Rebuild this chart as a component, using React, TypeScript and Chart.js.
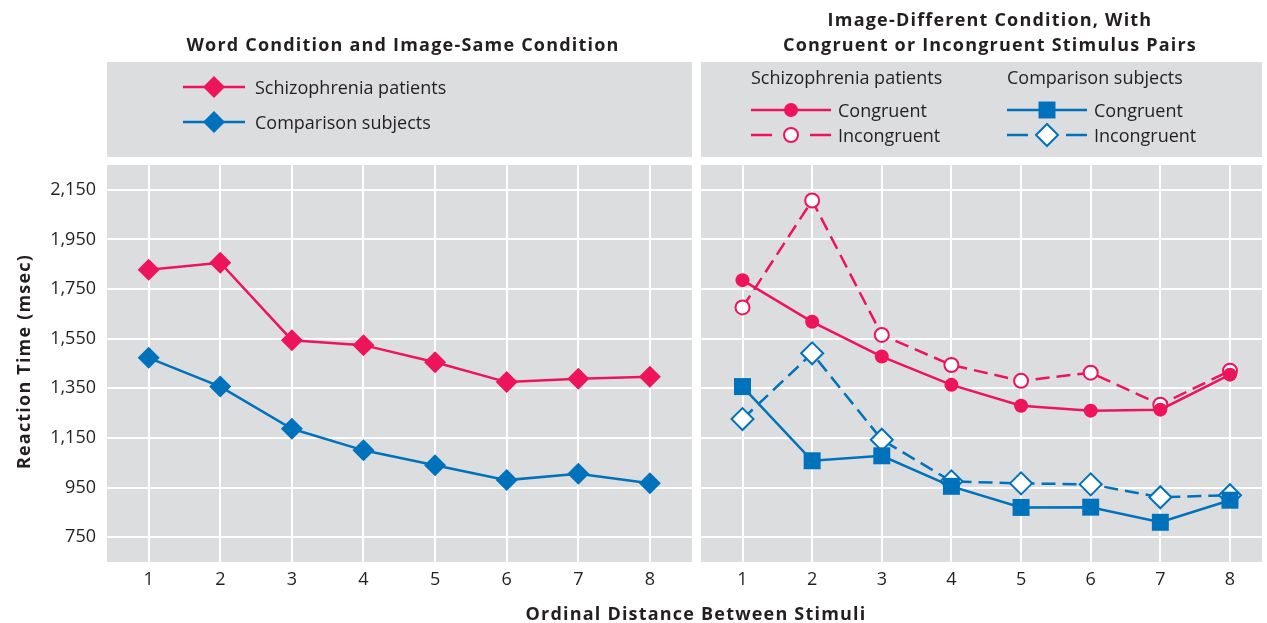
import React, { useEffect, useRef } from "react";
import { Chart, registerables } from "chart.js";

Chart.register(...registerables);

// ---------- data ----------
const distances = [1, 2, 3, 4, 5, 6, 7, 8];
const yTickValues = [750, 950, 1150, 1350, 1550, 1750, 1950, 2150];

// Word condition and image-same condition
const wordSchizo = [1828, 1856, 1544, 1524, 1455, 1375, 1389, 1397];
const wordComparison = [1473, 1357, 1187, 1100, 1040, 980, 1006, 967];

// Image-different condition
const diffSchizoCongruent = [1786, 1618, 1478, 1364, 1280, 1260, 1264, 1405];
const diffSchizoIncongruent = [1676, 2107, 1565, 1444, 1380, 1413, 1284, 1421];
const diffCompCongruent = [1357, 1058, 1078, 955, 870, 871, 810, 899];
const diffCompIncongruent = [1226, 1491, 1143, 975, 967, 963, 911, 919];

const leftTitle = "Word Condition and Image-Same Condition";
const rightTitle = ["Image-Different Condition, With", "Congruent or Incongruent Stimulus Pairs"];
const yTitle = "Reaction Time (msec)";
const xTitle = "Ordinal Distance Between Stimuli";
const groupSchizo = "Schizophrenia patients";
const groupComp = "Comparison subjects";
const labelCongruent = "Congruent";
const labelIncongruent = "Incongruent";

// ---------- style ----------
const PINK = "#ED145B";
const BLUE = "#0072BC";
const GRAY = "#DCDDDF";
const TEXT = "#231F20";
const FONT = "'Open Sans', sans-serif";
const SIZE = 18;
const BOLD_SPACING = "1.2px";
const DASH = [14, 7];

const toPts = (arr: number[]) => distances.map((x, i) => ({ x, y: arr[i] }));

function drawMarker(ctx: CanvasRenderingContext2D, style: string, x: number, y: number, r: number, fill: string, stroke: string, lw: number) {
  ctx.save();
  ctx.beginPath();
  if (style === "diamond") {
    ctx.moveTo(x - r, y);
    ctx.lineTo(x, y - r);
    ctx.lineTo(x + r, y);
    ctx.lineTo(x, y + r);
    ctx.closePath();
  } else if (style === "circle") {
    ctx.arc(x, y, r, 0, Math.PI * 2);
  } else {
    const s = r * Math.SQRT1_2;
    ctx.rect(x - s, y - s, 2 * s, 2 * s);
  }
  ctx.fillStyle = fill;
  ctx.fill();
  if (lw > 0) {
    ctx.lineWidth = lw;
    ctx.strokeStyle = stroke;
    ctx.stroke();
  }
  ctx.restore();
}

function hLine(ctx: CanvasRenderingContext2D, x1: number, x2: number, y: number, color: string) {
  ctx.save();
  ctx.beginPath();
  ctx.moveTo(x1, y);
  ctx.lineTo(x2, y);
  ctx.strokeStyle = color;
  ctx.lineWidth = 2.5;
  ctx.stroke();
  ctx.restore();
}

function text(ctx: CanvasRenderingContext2D, s: string, x: number, y: number, align: CanvasTextAlign, bold = false, rotate = 0) {
  ctx.save();
  ctx.font = `${bold ? "bold " : ""}${SIZE}px ${FONT}`;
  (ctx as any).letterSpacing = bold ? BOLD_SPACING : "0px";
  ctx.fillStyle = TEXT;
  ctx.textAlign = align;
  ctx.textBaseline = "middle";
  ctx.translate(x, y);
  if (rotate) ctx.rotate(rotate);
  ctx.fillText(s, 0, rotate ? 0 : 1.5);
  ctx.restore();
}

const backgroundPlugin = {
  id: "panelBackground",
  beforeDraw(chart: any) {
    const { ctx, chartArea } = chart;
    ctx.save();
    ctx.fillStyle = GRAY;
    ctx.fillRect(chartArea.left, chartArea.top, chartArea.right - chartArea.left, chartArea.bottom - chartArea.top);
    ctx.fillRect(chartArea.left, 62, chartArea.right - chartArea.left, 95);
    ctx.restore();
  },
};

function xScale(min: number, max: number) {
  return {
    type: "linear",
    min,
    max,
    afterBuildTicks: (s: any) => {
      s.ticks = distances.map((v) => ({ value: v }));
    },
    afterFit: (s: any) => {
      s.height = 40;
    },
    grid: { color: "#FFFFFF", lineWidth: 2, drawTicks: false },
    border: { display: false },
    ticks: {
      color: TEXT,
      font: { family: FONT, size: SIZE },
      padding: 7,
      autoSkip: false,
      maxRotation: 0,
      callback: (v: any) => String(v),
    },
  };
}

function yScale(showLabels: boolean) {
  return {
    type: "linear",
    min: 650,
    max: 2250,
    afterBuildTicks: (s: any) => {
      s.ticks = yTickValues.map((v) => ({ value: v }));
    },
    afterFit: (s: any) => {
      s.width = showLabels ? 107 : 0;
    },
    grid: { color: "#FFFFFF", lineWidth: 2, drawTicks: false },
    border: { display: false },
    ticks: {
      display: showLabels,
      color: TEXT,
      font: { family: FONT, size: SIZE },
      padding: 11,
      callback: (v: any) => Number(v).toLocaleString("en-US"),
    },
    title: { display: false },
  };
}

const baseOptions = {
  responsive: false,
  animation: false,
  events: [],
  plugins: { legend: { display: false }, tooltip: { enabled: false }, title: { display: false } },
};

export default function App() {
  const leftRef = useRef<HTMLCanvasElement>(null);
  const rightRef = useRef<HTMLCanvasElement>(null);

  useEffect(() => {
    const leftLegend = {
      id: "leftLegend",
      afterDraw(chart: any) {
        const { ctx, chartArea } = chart;
        text(ctx, leftTitle, 403, 44, "center", true);
        text(ctx, yTitle, 25, (chartArea.top + chartArea.bottom) / 2 - 2, "center", true, -Math.PI / 2);
        const rows = [
          { y: 87, color: PINK, label: groupSchizo },
          { y: 122, color: BLUE, label: groupComp },
        ];
        rows.forEach((r) => {
          hLine(ctx, 183, 245, r.y, r.color);
          drawMarker(ctx, "diamond", 214, r.y, 11, r.color, r.color, 0);
          text(ctx, r.label, 255, r.y, "left");
        });
      },
    };

    const OFF = 697;
    const rightLegend = {
      id: "rightLegend",
      afterDraw(chart: any) {
        const { ctx } = chart;
        text(ctx, rightTitle[0], 990 - OFF, 19, "center", true);
        text(ctx, rightTitle[1], 990 - OFF, 44, "center", true);
        text(ctx, groupSchizo, 751 - OFF, 77, "left");
        text(ctx, groupComp, 1007 - OFF, 77, "left");
        // schizophrenia congruent
        hLine(ctx, 751 - OFF, 831 - OFF, 110, PINK);
        drawMarker(ctx, "circle", 791 - OFF, 110, 7, PINK, PINK, 0);
        text(ctx, labelCongruent, 838 - OFF, 110, "left");
        // schizophrenia incongruent
        hLine(ctx, 751 - OFF, 772 - OFF, 135, PINK);
        hLine(ctx, 810 - OFF, 831 - OFF, 135, PINK);
        drawMarker(ctx, "circle", 791 - OFF, 135, 7, "#FFFFFF", PINK, 2);
        text(ctx, labelIncongruent, 838 - OFF, 135, "left");
        // comparison congruent
        hLine(ctx, 1007 - OFF, 1087 - OFF, 110, BLUE);
        drawMarker(ctx, "square", 1047 - OFF, 110, 12, BLUE, BLUE, 0);
        text(ctx, labelCongruent, 1094 - OFF, 110, "left");
        // comparison incongruent
        hLine(ctx, 1007 - OFF, 1028 - OFF, 135, BLUE);
        hLine(ctx, 1066 - OFF, 1087 - OFF, 135, BLUE);
        drawMarker(ctx, "diamond", 1047 - OFF, 135, 11, "#FFFFFF", BLUE, 2);
        text(ctx, labelIncongruent, 1094 - OFF, 135, "left");
      },
    };

    const left = new Chart(leftRef.current as HTMLCanvasElement, {
      type: "line",
      data: {
        datasets: [
          {
            label: groupSchizo,
            data: toPts(wordSchizo),
            borderColor: PINK,
            backgroundColor: PINK,
            borderWidth: 2.5,
            pointStyle: "rectRot",
            pointRadius: 11,
            pointBorderWidth: 0,
            pointBackgroundColor: PINK,
          },
          {
            label: groupComp,
            data: toPts(wordComparison),
            borderColor: BLUE,
            backgroundColor: BLUE,
            borderWidth: 2.5,
            pointStyle: "rectRot",
            pointRadius: 11,
            pointBorderWidth: 0,
            pointBackgroundColor: BLUE,
          },
        ],
      },
      options: {
        ...baseOptions,
        layout: { autoPadding: false, padding: { left: 0, right: 5, top: 165, bottom: 21 } },
        scales: { x: xScale(0.418, 8.588), y: yScale(true) },
      } as any,
      plugins: [backgroundPlugin, leftLegend],
    });

    const right = new Chart(rightRef.current as HTMLCanvasElement, {
      type: "line",
      data: {
        datasets: [
          {
            label: groupSchizo + " " + labelCongruent,
            data: toPts(diffSchizoCongruent),
            borderColor: PINK,
            borderWidth: 2.5,
            pointStyle: "circle",
            pointRadius: 7,
            pointBorderWidth: 0,
            pointBackgroundColor: PINK,
          },
          {
            label: groupComp + " " + labelCongruent,
            data: toPts(diffCompCongruent),
            borderColor: BLUE,
            borderWidth: 2.5,
            pointStyle: "rect",
            pointRadius: 12,
            pointBorderWidth: 0,
            pointBackgroundColor: BLUE,
          },
          {
            label: groupSchizo + " " + labelIncongruent,
            data: toPts(diffSchizoIncongruent),
            borderColor: PINK,
            borderWidth: 2.5,
            borderDash: DASH,
            pointStyle: "circle",
            pointRadius: 7,
            pointBorderWidth: 2,
            pointBorderColor: PINK,
            pointBackgroundColor: "#FFFFFF",
          },
          {
            label: groupComp + " " + labelIncongruent,
            data: toPts(diffCompIncongruent),
            borderColor: BLUE,
            borderWidth: 2.5,
            borderDash: DASH,
            pointStyle: "rectRot",
            pointRadius: 11,
            pointBorderWidth: 2,
            pointBorderColor: BLUE,
            pointBackgroundColor: "#FFFFFF",
          },
        ],
      },
      options: {
        ...baseOptions,
        layout: { autoPadding: false, padding: { left: 4, right: 5, top: 165, bottom: 21 } },
        scales: { x: xScale(0.404, 8.46), y: yScale(false) },
      } as any,
      plugins: [backgroundPlugin, rightLegend],
    });

    return () => {
      left.destroy();
      right.destroy();
    };
  }, []);

  return (
    <div style={{ position: "absolute", left: 0, top: 0, width: 1267, height: 623, background: "#FFFFFF", overflow: "hidden" }}>
      <div style={{ position: "absolute", left: 0, top: 0, width: 697, height: 623 }}>
        <canvas ref={leftRef} width={697} height={623} />
      </div>
      <div style={{ position: "absolute", left: 697, top: 0, width: 570, height: 623 }}>
        <canvas ref={rightRef} width={570} height={623} />
      </div>
      <div
        style={{
          position: "absolute",
          left: 396,
          top: 602,
          width: 600,
          textAlign: "center",
          fontFamily: FONT,
          fontWeight: "bold",
          fontSize: SIZE,
          letterSpacing: BOLD_SPACING,
          lineHeight: "22px",
          color: TEXT,
        }}
      >
        {xTitle}
      </div>
    </div>
  );
}
